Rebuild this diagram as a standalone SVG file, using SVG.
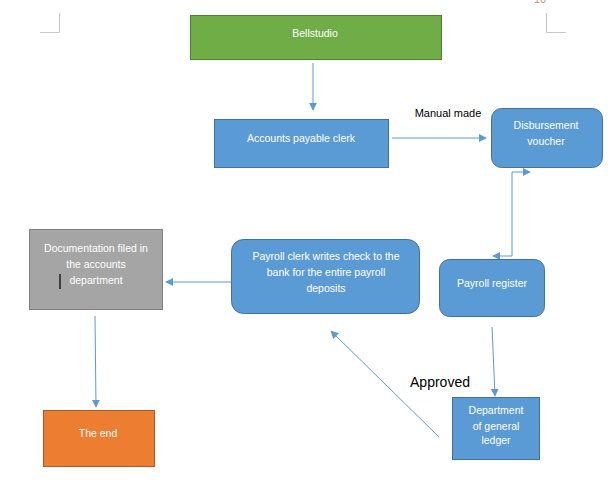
<svg xmlns="http://www.w3.org/2000/svg" width="613" height="499" viewBox="0 0 613 499">
<style>
.t{font-family:"Liberation Sans",Arial,sans-serif;font-size:10.5px;fill:#ffffff;text-anchor:middle}
.k{font-family:"Liberation Sans",Arial,sans-serif;fill:#000000}
.b{fill:#5b9bd5;stroke:#41719c;stroke-width:1}
.c{fill:none;stroke:#5b9bd5;stroke-width:1}
.m{fill:none;stroke:#c8c8c8;stroke-width:1}
</style>
<defs>
<marker id="ah" viewBox="0 0 10 10" refX="9" refY="5" markerWidth="8" markerHeight="8" markerUnits="userSpaceOnUse" orient="auto-start-reverse">
<path d="M0,0 L10,5 L0,10 z" fill="#5b9bd5"/>
</marker>
</defs>
<rect width="613" height="499" fill="#ffffff"/>
<g id="page-marks">
<path class="m" d="M59.5,13 V32.5 H40"/>
<path class="m" d="M546.5,13 V32.5 H566"/>
<text x="540" y="3" font-family="Liberation Sans,Arial,sans-serif" font-size="11" fill="#c09a6b" text-anchor="middle">10</text>
</g>
<g id="connectors">
<line class="c" x1="313" y1="63" x2="313" y2="110" marker-end="url(#ah)"/>
<line class="c" x1="392" y1="138" x2="486" y2="138" marker-end="url(#ah)"/>
<path class="c" d="M530,172 H512 V256 H493" marker-start="url(#ah)" marker-end="url(#ah)"/>
<line class="c" x1="492" y1="327" x2="495" y2="396" marker-end="url(#ah)"/>
<line class="c" x1="439" y1="437" x2="331" y2="331" marker-end="url(#ah)"/>
<line class="c" x1="231" y1="282" x2="166" y2="282" marker-end="url(#ah)"/>
<line class="c" x1="95" y1="316" x2="96" y2="407" marker-end="url(#ah)"/>
</g>
<g id="bell-studio">
<rect x="190.5" y="15.5" width="251" height="44" fill="#70ad47" stroke="#507e32"/>
<text class="t" x="315" y="37">Bellstudio</text>
</g>
<g id="accounts-payable-clerk">
<rect class="b" x="214.5" y="119.5" width="174" height="48"/>
<text class="t" x="301" y="142">Accounts payable clerk</text>
</g>
<g id="disbursement-voucher">
<rect class="b" x="491.5" y="108.5" width="111" height="59" rx="10"/>
<text class="t" x="546" y="129">Disbursement</text>
<text class="t" x="546" y="145">voucher</text>
</g>
<text class="k" x="448" y="117" font-size="11" text-anchor="middle">Manual made</text>
<g id="payroll-register">
<rect class="b" x="439.5" y="259.5" width="105" height="57" rx="10"/>
<text class="t" x="492" y="287">Payroll register</text>
</g>
<g id="department-general-ledger">
<rect class="b" x="452.5" y="397.5" width="87" height="62"/>
<text class="t" x="496" y="414">Department</text>
<text class="t" x="496" y="430">of general</text>
<text class="t" x="496" y="444">ledger</text>
</g>
<text class="k" x="440" y="387" font-size="14" text-anchor="middle">Approved</text>
<g id="payroll-clerk">
<rect class="b" x="231.5" y="239.5" width="188" height="74" rx="12"/>
<text class="t" x="326" y="260">Payroll clerk writes check to the</text>
<text class="t" x="326" y="276">bank for the entire payroll</text>
<text class="t" x="326" y="292">deposits</text>
</g>
<g id="documentation">
<rect x="29.5" y="229.5" width="133" height="80" fill="#a5a5a5" stroke="#7f7f7f"/>
<text class="t" x="96" y="252">Documentation filed in</text>
<text class="t" x="96" y="268">the accounts</text>
<text class="t" x="96" y="284">department</text>
<rect x="59" y="274" width="2" height="15" fill="#404040"/>
</g>
<g id="the-end">
<rect x="43.5" y="410.5" width="111" height="56" fill="#ed7d31" stroke="#ae5a21"/>
<text class="t" x="98" y="437">The end</text>
</g>
</svg>
